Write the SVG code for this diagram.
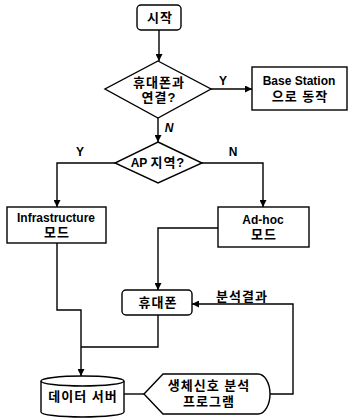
<svg xmlns="http://www.w3.org/2000/svg" width="355" height="418" viewBox="0 0 355 418">
<style>
.s{fill:#fff;stroke:#000;stroke-width:1.4}
.c{fill:none;stroke:#000;stroke-width:1.4}
text{font-family:"Liberation Sans","Noto Sans CJK KR",sans-serif;font-size:12px;font-weight:bold;fill:#000;text-anchor:middle}
.k{font-size:13px;letter-spacing:1px}
</style>
<defs>
<marker id="a" viewBox="0 0 10 10" refX="10" refY="5" markerWidth="7" markerHeight="7" markerUnits="userSpaceOnUse" orient="auto">
<path d="M0,0 L10,5 L0,10 Z" fill="#000"/>
</marker>
</defs>
<rect width="355" height="418" fill="#fff"/>
<g id="connectors">
<path class="c" d="M159,30 V61" marker-end="url(#a)"/>
<path class="c" d="M211,89 H252" marker-end="url(#a)"/>
<path class="c" d="M158,118 V142" marker-end="url(#a)"/>
<path class="c" d="M115,163 H57 V207" marker-end="url(#a)"/>
<path class="c" d="M202,163 H263 V207" marker-end="url(#a)"/>
<path class="c" d="M218,228 H158 V290" marker-end="url(#a)"/>
<path class="c" d="M57,243 V310 H81 V376" marker-end="url(#a)"/>
<path class="c" d="M158,315 V347 H81"/>
<path class="c" d="M124,394 H144"/>
<path class="c" d="M270,394 H293 V304 H192" marker-end="url(#a)"/>
<text x="223" y="85">Y</text>
<text x="169" y="132" font-style="italic">N</text>
<text x="80" y="156">Y</text>
<text x="233" y="156">N</text>
<text class="k" x="242" y="301">분석결과</text>
</g>
<g id="start">
<rect class="s" x="137" y="5" width="44" height="25" rx="4"/>
<text class="k" x="160" y="22">시작</text>
</g>
<g id="connected">
<polygon class="s" points="158,61 211,89 158,118 105,89"/>
<text class="k" x="159" y="87">휴대폰과</text>
<text class="k" x="159" y="102">연결?</text>
</g>
<g id="basestation">
<rect class="s" x="252" y="67" width="95" height="43"/>
<text x="299" y="85">Base Station</text>
<text class="k" x="300" y="101">으로 동작</text>
</g>
<g id="ap">
<polygon class="s" points="158,142 202,163 158,183 115,163"/>
<text x="158" y="167">AP <tspan class="k">지역?</tspan></text>
</g>
<g id="infra">
<rect class="s" x="7" y="207" width="99" height="36"/>
<text x="56" y="222">Infrastructure</text>
<text class="k" x="57" y="237">모드</text>
</g>
<g id="adhoc">
<rect class="s" x="218" y="207" width="91" height="40"/>
<text x="263" y="224">Ad-hoc</text>
<text class="k" x="264" y="239">모드</text>
</g>
<g id="phone">
<rect class="s" x="122" y="290" width="70" height="25" rx="4"/>
<text class="k" x="158" y="307">휴대폰</text>
</g>
<g id="server">
<path class="s" d="M41,381 A41.5,5 0 0 1 124,381 V412 A41.5,5 0 0 1 41,412 Z"/>
<path class="c" d="M41,381 A41.5,5 0 0 0 124,381"/>
<text class="k" x="83" y="401">데이터 서버</text>
</g>
<g id="program">
<path class="s" d="M144,394 L163,374 H258 A12,20 0 0 1 258,414 H163 Z"/>
<text class="k" x="209" y="390">생체신호 분석</text>
<text class="k" x="209" y="406">프로그램</text>
</g>
</svg>
